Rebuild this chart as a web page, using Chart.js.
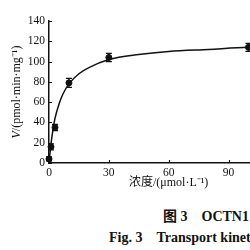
<!DOCTYPE html>
<html><head><meta charset="utf-8">
<script src="https://cdn.jsdelivr.net/npm/chart.js@4/dist/chart.umd.min.js"></script>
<style>
html,body{margin:0;padding:0;width:250px;height:250px;overflow:hidden;background:#fff;}
#wrap{position:absolute;left:0;top:0;width:300px;height:195px;}
.cap{position:absolute;white-space:nowrap;font-family:"Liberation Serif","Noto Sans CJK SC",serif;font-weight:bold;font-size:14px;color:#111;}
</style></head><body>
<div id="wrap"><canvas id="c" width="300" height="195"></canvas></div>
<div class="cap" style="left:163px;top:205px">图 3　OCTN1</div>
<div class="cap" style="left:109px;top:226px">Fig. 3　Transport kinetics</div>
<script>
// measured points
const concentrations = [0, 1, 3, 10, 30, 100];
const velocities = [4, 16, 35, 79, 104, 114];
const errors = [2, 3, 3, 4.5, 4, 4];
// fitted curve
const fitX = [0, 0.5, 1, 2, 3, 5, 7, 10, 15, 20, 30, 45, 60, 80, 100, 120];
const fitY = [0, 10, 19, 33, 44, 58, 68, 78, 88, 94, 102, 107, 110, 112, 114, 115];
const xTickValues = [0, 30, 60, 90, 120];
const yTickValues = [0, 20, 40, 60, 80, 100, 120, 140];
const xTitle = '浓度/(μmol·L⁻¹)';
const yTitleItalic = 'V';
const yTitleRest = '/(pmol·min·mg⁻¹)';

const ink = '#111';
const serif = '"Liberation Serif", "Noto Sans CJK SC", serif';

const decor = {
  id: 'decor',
  afterDatasetsDraw(chart) {
    const {ctx, scales: {x, y}} = chart;
    ctx.save();
    ctx.strokeStyle = ink; ctx.lineWidth = 1.2;
    concentrations.forEach((c, i) => {
      const px = x.getPixelForValue(c);
      const t = y.getPixelForValue(velocities[i] + errors[i]);
      const b = y.getPixelForValue(velocities[i] - errors[i]);
      ctx.beginPath();
      ctx.moveTo(px, t); ctx.lineTo(px, b);
      ctx.moveTo(px - 3, t); ctx.lineTo(px + 3, t);
      ctx.moveTo(px - 3, b); ctx.lineTo(px + 3, b);
      ctx.stroke();
    });
    ctx.restore();
  },
  afterDraw(chart) {
    const {ctx, chartArea: ca, scales: {x, y}} = chart;
    ctx.save();
    ctx.strokeStyle = ink; ctx.lineWidth = 1.2;
    ctx.beginPath();
    yTickValues.forEach(v => { const py = Math.round(y.getPixelForValue(v)) + 0.5; ctx.moveTo(ca.left, py); ctx.lineTo(ca.left + 3, py); });
    xTickValues.forEach(v => { const px = Math.round(x.getPixelForValue(v)) + 0.5; ctx.moveTo(px, ca.bottom); ctx.lineTo(px, ca.bottom - 3); });
    ctx.stroke();
    ctx.fillStyle = ink;
    // x title
    ctx.font = '12px ' + serif;
    ctx.textAlign = 'center'; ctx.textBaseline = 'middle';
    ctx.fillText(xTitle, (ca.left + ca.right) / 2, 183);
    // y title
    ctx.translate(17, (ca.top + ca.bottom) / 2);
    ctx.rotate(-Math.PI / 2);
    const f1 = 'italic 12px ' + serif, f2 = '12px ' + serif;
    ctx.font = f1; const w1 = ctx.measureText(yTitleItalic).width;
    ctx.font = f2; const w2 = ctx.measureText(yTitleRest).width;
    const sx = -(w1 + w2) / 2;
    ctx.textAlign = 'left';
    ctx.font = f1; ctx.fillText(yTitleItalic, sx, 0);
    ctx.font = f2; ctx.fillText(yTitleRest, sx + w1, 0);
    ctx.restore();
  }
};

new Chart(document.getElementById('c'), {
  type: 'scatter',
  data: {
    datasets: [
      {
        type: 'line',
        data: fitX.map((v, i) => ({x: v, y: fitY[i]})),
        borderColor: ink, borderWidth: 1.5, pointRadius: 0,
        cubicInterpolationMode: 'monotone', fill: false, clip: false
      },
      {
        data: concentrations.map((v, i) => ({x: v, y: velocities[i]})),
        backgroundColor: ink, borderColor: ink, pointRadius: 3, pointStyle: 'circle', clip: false
      }
    ]
  },
  options: {
    responsive: false, animation: false,
    devicePixelRatio: 1,
    layout: {padding: {left: 0, right: 10, top: 21, bottom: 0}},
    plugins: {legend: {display: false}, tooltip: {enabled: false}},
    scales: {
      x: {
        type: 'linear', min: 0, max: 120,
        afterBuildTicks: s => { s.ticks = xTickValues.map(v => ({value: v})); },
        afterFit: s => { s.height = 32; },
        grid: {display: true, drawOnChartArea: false, drawTicks: false, color: 'rgba(0,0,0,0)'},
        border: {display: true, color: ink, width: 1.5},
        ticks: {color: ink, padding: 3, font: {family: serif, size: 11.5}, maxRotation: 0}
      },
      y: {
        min: 0, max: 140,
        afterBuildTicks: s => { s.ticks = yTickValues.map(v => ({value: v})); },
        afterFit: s => { s.width = 49; },
        grid: {display: true, drawOnChartArea: false, drawTicks: false, color: 'rgba(0,0,0,0)'},
        border: {display: true, color: ink, width: 1.5},
        ticks: {color: ink, padding: 4, font: {family: serif, size: 11.5}}
      }
    }
  },
  plugins: [decor]
});
</script>
</body></html>
